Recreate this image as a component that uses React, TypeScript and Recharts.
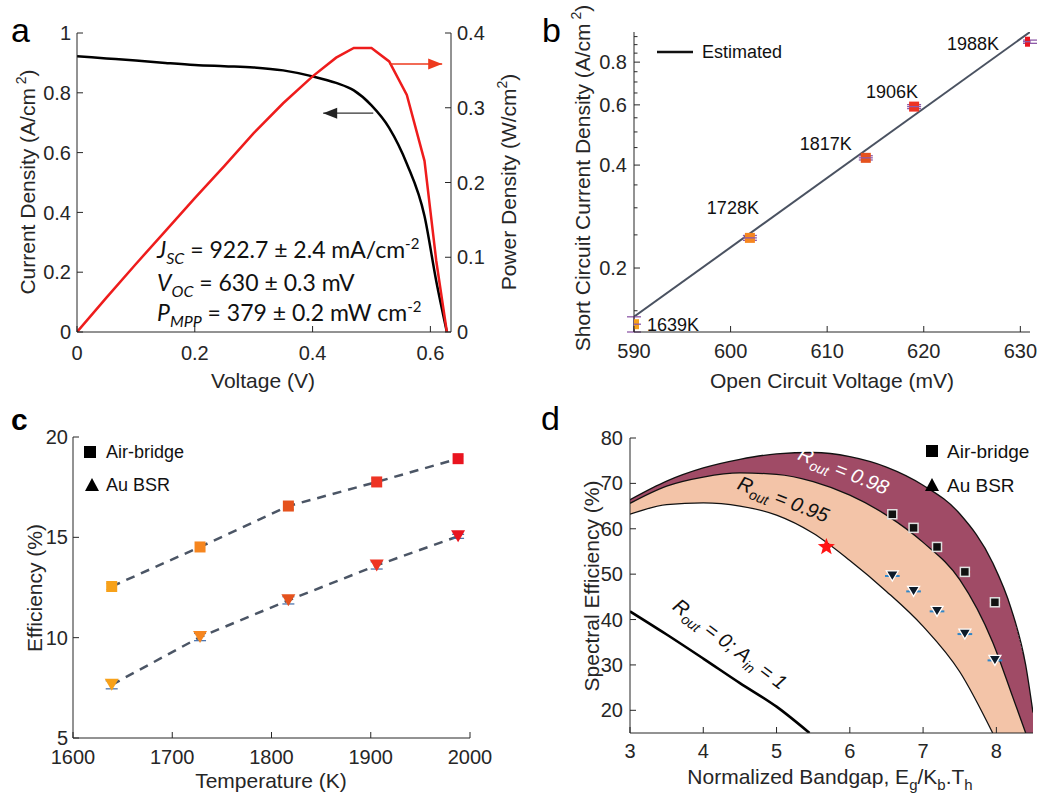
import React from "react";
import {
  ComposedChart,
  Line,
  Area,
  Scatter,
  XAxis,
  YAxis,
  ErrorBar,
  ReferenceDot,
  ReferenceLine,
} from "recharts";

const SANS = "'Liberation Sans', Arial, Helvetica, sans-serif";
const CALIBRI = "Lato, 'Open Sans', sans-serif";
const INK = "#262626";

// (a) J-V and P-V sweep
const voltage = [0, 0.05, 0.1, 0.15, 0.2, 0.25, 0.3, 0.35, 0.4, 0.44, 0.47, 0.5, 0.53, 0.56, 0.59, 0.61, 0.628];
const currentDensity = [0.922, 0.915, 0.908, 0.9, 0.893, 0.889, 0.885, 0.875, 0.855, 0.833, 0.808, 0.758, 0.683, 0.563, 0.388, 0.17, 0];
const powerDensity = [0, 0.046, 0.091, 0.135, 0.179, 0.222, 0.266, 0.306, 0.342, 0.367, 0.38, 0.38, 0.362, 0.317, 0.229, 0.095, 0];
const jArrowV = [0.503, 0.418]; // tail, head
const jArrowLevel = 0.732;
const pArrowV = [0.531, 0.62];
const pArrowLevel = 0.3585;

// (b) Jsc vs Voc
const tempLabels = ["1639K", "1728K", "1817K", "1906K", "1988K"];
const vocMv = [590, 602, 614, 619, 631];
const jscA = [0.137, 0.245, 0.42, 0.593, 0.918];
const jscErr = [0.007, 0.004, 0.006, 0.008, 0.01];
const estimatedVoc = [590, 631];
const estimatedJsc = [0.144, 0.98];
const jscMajor = [0.2, 0.4, 0.6, 0.8];
const jscMinor = [0.15, 0.25, 0.3, 0.35, 0.45, 0.5, 0.55, 0.65, 0.7, 0.75, 0.85, 0.9, 0.95];

// (c) efficiency vs temperature
const tempK = [1639, 1728, 1817, 1906, 1988];
const effAirBridge = [12.55, 14.52, 16.56, 17.76, 18.92];
const effAuBsr = [7.65, 10.03, 11.86, 13.6, 15.05];
const errAirBridge = [0.15, 0.18, 0.18, 0.18, 0.12];
const errAuBsr = [0.2, 0.18, 0.18, 0.18, 0.1];

// (d) spectral efficiency vs normalized bandgap
const bandgap = [3, 3.5, 4, 4.5, 5, 5.5, 6, 6.5, 7, 7.5, 7.95, 8.2, 8.4, 8.5];
const specR098 = [66.4, 70.5, 73.4, 75.3, 76.5, 76.8, 75.9, 73.6, 69.6, 63.3, 52.5, 42.5, 30, 19.5];
const specR095 = [65.6, 69.4, 71.4, 72.3, 72.0, 70.4, 67.4, 63.0, 57.0, 48.8, 35.0, 24.0, 15];
const specR095Low = [63.2, 65.3, 65.7, 65.0, 63.0, 59.0, 53.0, 46.2, 38.5, 28.5, 15];
const r0Gap = [3, 3.5, 4, 4.5, 5, 5.45];
const r0Spec = [41.8, 36.7, 31.4, 26.0, 20.8, 15];
const gapMeasured = [6.58, 6.87, 7.19, 7.57, 7.98];
const specAirBridge = [63.2, 60.2, 56.0, 50.5, 43.8];
const specAuBsr = [49.6, 46.2, 41.8, 36.8, 31.0];
const starGap = [5.68];
const starSpec = [56];
const D_FLOOR = 15;

const TEMP_COLORS = ["#f7a11a", "#f6861f", "#e5521d", "#ee3424", "#e9141f"];

type Side = "bottom" | "top" | "left" | "right";

function inwardTick(side: Side, margin: number, opts: { labels?: boolean; majors?: number[] } = {}) {
  const { labels = true, majors } = opts;
  return (props: any) => {
    const { x, y, payload } = props;
    const v = Number(payload.value);
    const major = !majors || majors.some((m) => Math.abs(m - v) < 1e-9);
    const len = major ? 6 : 3.5;
    let x1 = x, y1 = y, x2 = x, y2 = y;
    let anchor: any = "middle";
    let dy = "0.355em";
    if (side === "bottom") {
      y1 = y - margin;
      y2 = y1 - len;
      dy = "0.8em";
    } else if (side === "top") {
      y1 = y + margin;
      y2 = y1 + len;
    } else if (side === "left") {
      x1 = x + margin;
      x2 = x1 + len;
      anchor = "end";
    } else {
      x1 = x - margin;
      x2 = x1 - len;
      anchor = "start";
    }
    return (
      <g>
        <line x1={x1} y1={y1} x2={x2} y2={y2} stroke={INK} strokeWidth={1} />
        {labels && major && (
          <text x={x} y={y} dy={dy} textAnchor={anchor} fontFamily={SANS} fontSize={20} fill={INK}>
            {String(v)}
          </text>
        )}
      </g>
    );
  };
}

const axisLine = { stroke: INK, strokeWidth: 1 };

const square = (size: number, edge?: string) => (p: any) => (
  <rect
    x={p.cx - size / 2}
    y={p.cy - size / 2}
    width={size}
    height={size}
    fill={p.payload.color ?? "#000"}
    stroke={edge ?? "none"}
    strokeWidth={edge ? 1.5 : 0}
  />
);

const downTriangle = (w: number, h: number, edge?: string) => (p: any) => (
  <polygon
    points={`${p.cx - w / 2},${p.cy - h / 2} ${p.cx + w / 2},${p.cy - h / 2} ${p.cx},${p.cy + h / 2}`}
    fill={p.payload.color ?? "#000"}
    stroke={edge ?? "none"}
    strokeWidth={edge ? 1.3 : 0}
  />
);

const starShape = (p: any) => {
  const pts: string[] = [];
  for (let k = 0; k < 10; k++) {
    const r = k % 2 === 0 ? 9 : 3.8;
    const a = -Math.PI / 2 + (k * Math.PI) / 5;
    pts.push(`${p.cx + r * Math.cos(a)},${p.cy + r * Math.sin(a)}`);
  }
  return <polygon points={pts.join(" ")} fill="#ff1414" />;
};

const arrowHead = (dir: "left" | "right", color: string) => (p: any) => {
  const s = dir === "left" ? 1 : -1;
  return (
    <polygon
      points={`${p.cx},${p.cy} ${p.cx + s * 14},${p.cy - 5.5} ${p.cx + s * 14},${p.cy + 5.5}`}
      fill={color}
    />
  );
};

// (b) point labels offsets (text centre relative to marker)
const labelDx = [39, -17, -40, -22, -57];
const labelDy = [0, -30, -14, -15, 2];

const labelledSquare = (p: any) => {
  const i = p.payload.i;
  return (
    <g>
      <rect x={p.cx - 5} y={p.cy - 5} width={10} height={10} fill={p.payload.color} />
      <line x1={p.cx - 7} x2={p.cx + 7} y1={p.cy} y2={p.cy} stroke="#8e5aa8" strokeWidth={1.3} />
      <text
        x={p.cx + labelDx[i]}
        y={p.cy + labelDy[i]}
        dy="0.355em"
        textAnchor="middle"
        fontFamily={SANS}
        fontSize={18}
        fill="#111"
      >
        {p.payload.label}
      </text>
    </g>
  );
};

const rotatedLabel = (angle: number, color: string, parts: [string, string][]) => (p: any) => (
  <text
    transform={`translate(${p.cx},${p.cy}) rotate(${angle})`}
    textAnchor="middle"
    dy="0.35em"
    fontFamily={SANS}
    fontStyle="italic"
    fontSize={20}
    fill={color}
  >
    {parts.map(([t, kind], k) =>
      kind === "sub" ? (
        <tspan key={k} fontSize={14} dy={5}>
          {t}
        </tspan>
      ) : (
        <tspan key={k} dy={k > 0 && parts[k - 1][1] === "sub" ? -5 : 0}>
          {t}
        </tspan>
      ),
    )}
  </text>
);

function PanelA() {
  const data = voltage.map((v, i) => ({ x: v, j: currentDensity[i], p: powerDensity[i] }));
  return (
    <ComposedChart width={520} height={400} data={data} margin={{ top: 33, right: 19, bottom: 18, left: 17 }}>
      <XAxis xAxisId="b" dataKey="x" type="number" domain={[0, 0.635]} ticks={[0, 0.2, 0.4, 0.6]} allowDataOverflow
        height={50} tickSize={0} tickMargin={12} interval={0} tick={inwardTick("bottom", 12)} axisLine={axisLine} />
      <XAxis xAxisId="t" orientation="top" dataKey="x" type="number" domain={[0, 0.635]} ticks={[0.2, 0.4, 0.6]}
        allowDataOverflow height={0} tickSize={0} tickMargin={0} interval={0}
        tick={inwardTick("top", 0, { labels: false })} axisLine={axisLine} />
      <YAxis yAxisId="j" type="number" domain={[0, 1]} ticks={[0, 0.2, 0.4, 0.6, 0.8, 1]} allowDataOverflow width={60}
        tickSize={0} tickMargin={6} interval={0} tick={inwardTick("left", 6)} axisLine={axisLine} />
      <YAxis yAxisId="p" orientation="right" type="number" domain={[0, 0.4]} ticks={[0, 0.1, 0.2, 0.3, 0.4]}
        allowDataOverflow width={50} tickSize={0} tickMargin={6} interval={0} tick={inwardTick("right", 6)}
        axisLine={axisLine} />
      <Line xAxisId="b" yAxisId="j" dataKey="j" type="monotone" stroke="#000" strokeWidth={2.5} dot={false}
        isAnimationActive={false} />
      <Line xAxisId="b" yAxisId="p" dataKey="p" type="linear" stroke="#ee1c1c" strokeWidth={2.5} dot={false}
        isAnimationActive={false} />
      <ReferenceLine xAxisId="b" yAxisId="j" stroke="#333" strokeWidth={1.3}
        segment={[{ x: jArrowV[0], y: jArrowLevel }, { x: jArrowV[1], y: jArrowLevel }]} />
      <ReferenceDot xAxisId="b" yAxisId="j" x={jArrowV[1]} y={jArrowLevel} shape={arrowHead("left", "#222")} />
      <ReferenceLine xAxisId="b" yAxisId="p" stroke="#ee3a1e" strokeWidth={1.3}
        segment={[{ x: pArrowV[0], y: pArrowLevel }, { x: pArrowV[1], y: pArrowLevel }]} />
      <ReferenceDot xAxisId="b" yAxisId="p" x={pArrowV[1]} y={pArrowLevel} shape={arrowHead("right", "#ee3a1e")} />
    </ComposedChart>
  );
}

function PanelB() {
  const pts = vocMv.map((v, i) => ({ x: v, y: jscA[i], err: jscErr[i], color: TEMP_COLORS[i], label: tempLabels[i], i }));
  const est = estimatedVoc.map((v, i) => ({ x: v, y: estimatedJsc[i] }));
  const yTicks = [...jscMajor, ...jscMinor].sort((a, b) => a - b);
  return (
    <ComposedChart width={519} height={400} margin={{ top: 32, right: 9, bottom: 18, left: 54 }}>
      <XAxis xAxisId="b" dataKey="x" type="number" domain={[590, 631]} ticks={[590, 600, 610, 620, 630]}
        allowDataOverflow height={50} tickSize={0} tickMargin={10} interval={0} tick={inwardTick("bottom", 10)}
        axisLine={axisLine} />
      <XAxis xAxisId="t" orientation="top" dataKey="x" type="number" domain={[590, 631]} ticks={[600, 610, 620, 630]}
        allowDataOverflow height={0} tickSize={0} tickMargin={0} interval={0}
        tick={inwardTick("top", 0, { labels: false })} axisLine={axisLine} />
      <YAxis yAxisId="l" type="number" scale="log" domain={[0.13, 0.98]} ticks={yTicks} allowDataOverflow width={60}
        tickSize={0} tickMargin={7} interval={0} tick={inwardTick("left", 7, { majors: jscMajor })}
        axisLine={axisLine} />
      <YAxis yAxisId="r" orientation="right" type="number" scale="log" domain={[0.13, 0.98]} ticks={yTicks}
        allowDataOverflow width={0} tickSize={0} tickMargin={0} interval={0}
        tick={inwardTick("right", 0, { labels: false, majors: jscMajor })} axisLine={axisLine} />
      <Line data={est} xAxisId="b" yAxisId="l" dataKey="y" type="linear" stroke="#4a5261" strokeWidth={2}
        dot={false} isAnimationActive={false} />
      <Scatter data={pts} xAxisId="b" yAxisId="l" dataKey="y" shape={labelledSquare} isAnimationActive={false}>
        <ErrorBar dataKey="err" direction="y" width={7} stroke="#8e5aa8" strokeWidth={1.3} />
      </Scatter>
    </ComposedChart>
  );
}

function PanelC() {
  const data = tempK.map((t, i) => ({ x: t, ab: effAirBridge[i], au: effAuBsr[i] }));
  const ab = tempK.map((t, i) => ({ x: t, y: effAirBridge[i], err: errAirBridge[i], color: TEMP_COLORS[i] }));
  const au = tempK.map((t, i) => ({ x: t, y: effAuBsr[i], err: errAuBsr[i], color: TEMP_COLORS[i] }));
  return (
    <ComposedChart width={520} height={401} data={data} margin={{ top: 37, right: 50, bottom: 13, left: 23 }}>
      <XAxis xAxisId="b" dataKey="x" type="number" domain={[1600, 2000]} ticks={[1600, 1700, 1800, 1900, 2000]}
        allowDataOverflow height={50} tickSize={0} tickMargin={10} interval={0} tick={inwardTick("bottom", 10)}
        axisLine={axisLine} />
      <XAxis xAxisId="t" orientation="top" dataKey="x" type="number" domain={[1600, 2000]} ticks={[1700, 1800, 1900]}
        allowDataOverflow height={0} tickSize={0} tickMargin={0} interval={0}
        tick={inwardTick("top", 0, { labels: false })} axisLine={axisLine} />
      <YAxis yAxisId="l" type="number" domain={[5, 20]} ticks={[5, 10, 15, 20]} allowDataOverflow width={50}
        tickSize={0} tickMargin={5} interval={0} tick={inwardTick("left", 5)} axisLine={axisLine} />
      <YAxis yAxisId="r" orientation="right" type="number" domain={[5, 20]} ticks={[10, 15]} allowDataOverflow
        width={0} tickSize={0} tickMargin={0} interval={0} tick={inwardTick("right", 0, { labels: false })}
        axisLine={axisLine} />
      <Line xAxisId="b" yAxisId="l" dataKey="ab" type="linear" stroke="#4b5565" strokeWidth={2.5}
        strokeDasharray="9 7" dot={false} isAnimationActive={false} />
      <Line xAxisId="b" yAxisId="l" dataKey="au" type="linear" stroke="#4b5565" strokeWidth={2.5}
        strokeDasharray="9 7" dot={false} isAnimationActive={false} />
      <Scatter data={ab} xAxisId="b" yAxisId="l" dataKey="y" shape={square(11)} isAnimationActive={false}>
        <ErrorBar dataKey="err" direction="y" width={5} stroke="#7a2a12" strokeWidth={1.2} />
      </Scatter>
      <Scatter data={au} xAxisId="b" yAxisId="l" dataKey="y" shape={downTriangle(14, 12)} isAnimationActive={false}>
        <ErrorBar dataKey="err" direction="y" width={6} stroke="#3f6aa6" strokeWidth={1.2} />
      </Scatter>
    </ComposedChart>
  );
}

function PanelD() {
  const lastLow = specR095Low.length - 1;
  const lastMid = specR095.length - 1;
  const data = bandgap.map((g, i) => {
    const top = specR098[i];
    const mid = i <= lastMid ? specR095[i] : undefined;
    const low = i <= lastLow ? specR095Low[i] : undefined;
    return {
      x: g,
      top,
      mid,
      low,
      darkMain: i <= lastMid ? [mid, top] : undefined,
      darkTail: i >= lastMid ? [D_FLOOR, top] : undefined,
      lightMain: i <= lastLow ? [low, mid] : undefined,
      lightTail: i >= lastLow && i <= lastMid ? [D_FLOOR, mid] : undefined,
    };
  });
  const r0 = r0Gap.map((g, i) => ({ x: g, y: r0Spec[i] }));
  const ab = gapMeasured.map((g, i) => ({ x: g, y: specAirBridge[i], err: 0.075, color: "#111" }));
  const au = gapMeasured.map((g, i) => ({ x: g, y: specAuBsr[i], err: 0.1, color: "#0d1b2a" }));
  const star = starGap.map((g, i) => ({ x: g, y: starSpec[i] }));
  const DARK = "#a04b66";
  const LIGHT = "#f3c4a8";
  const band = (key: string, fill: string) => (
    <Area xAxisId="b" yAxisId="l" dataKey={key} type="monotone" stroke="none" fill={fill} fillOpacity={1}
      shapeRendering="crispEdges" isAnimationActive={false} />
  );
  return (
    <ComposedChart width={519} height={401} data={data} margin={{ top: 38, right: 6, bottom: 18, left: 60 }}>
      <XAxis xAxisId="b" dataKey="x" type="number" domain={[3, 8.5]} ticks={[3, 4, 5, 6, 7, 8]} allowDataOverflow
        height={50} tickSize={0} tickMargin={9} interval={0} tick={inwardTick("bottom", 9)} axisLine={axisLine} />
      <XAxis xAxisId="t" orientation="top" dataKey="x" type="number" domain={[3, 8.5]} ticks={[4, 5, 6, 7, 8]}
        allowDataOverflow height={0} tickSize={0} tickMargin={0} interval={0}
        tick={inwardTick("top", 0, { labels: false })} axisLine={axisLine} />
      <YAxis yAxisId="l" type="number" domain={[15, 80]} ticks={[20, 30, 40, 50, 60, 70, 80]} allowDataOverflow
        width={50} tickSize={0} tickMargin={7} interval={0} tick={inwardTick("left", 7)} axisLine={axisLine} />
      <YAxis yAxisId="r" orientation="right" type="number" domain={[15, 80]} ticks={[20, 30, 40, 50, 60, 70]}
        allowDataOverflow width={0} tickSize={0} tickMargin={0} interval={0}
        tick={inwardTick("right", 0, { labels: false })} axisLine={axisLine} />
      {band("darkMain", DARK)}
      {band("darkTail", DARK)}
      {band("lightMain", LIGHT)}
      {band("lightTail", LIGHT)}
      <Line xAxisId="b" yAxisId="l" dataKey="top" type="monotone" stroke="#111" strokeWidth={1.3} dot={false}
        isAnimationActive={false} />
      <Line xAxisId="b" yAxisId="l" dataKey="mid" type="monotone" stroke="#111" strokeWidth={1.3} dot={false}
        isAnimationActive={false} />
      <Line xAxisId="b" yAxisId="l" dataKey="low" type="monotone" stroke="#111" strokeWidth={1.3} dot={false}
        isAnimationActive={false} />
      <Line data={r0} xAxisId="b" yAxisId="l" dataKey="y" type="monotone" stroke="#000" strokeWidth={2.6}
        dot={false} isAnimationActive={false} />
      <Scatter data={ab} xAxisId="b" yAxisId="l" dataKey="y" shape={square(9, "#e0e0e0")} isAnimationActive={false}>
        <ErrorBar dataKey="err" direction="x" width={0} stroke="#c0282d" strokeWidth={1.3} />
      </Scatter>
      <Scatter data={au} xAxisId="b" yAxisId="l" dataKey="y" shape={downTriangle(12, 10, "#ffffff")}
        isAnimationActive={false}>
        <ErrorBar dataKey="err" direction="x" width={0} stroke="#2f86c8" strokeWidth={2} />
      </Scatter>
      <Scatter data={star} xAxisId="b" yAxisId="l" dataKey="y" shape={starShape} isAnimationActive={false} />
      <ReferenceDot xAxisId="b" yAxisId="l" x={5.88} y={71.4}
        shape={rotatedLabel(22, "#ffffff", [["R", "n"], ["out", "sub"], [" = 0.98", "n"]])} />
      <ReferenceDot xAxisId="b" yAxisId="l" x={5.06} y={65.1}
        shape={rotatedLabel(21, "#111", [["R", "n"], ["out", "sub"], [" = 0.95", "n"]])} />
      <ReferenceDot xAxisId="b" yAxisId="l" x={4.31} y={33.4}
        shape={rotatedLabel(37, "#111", [["R", "n"], ["out", "sub"], [" = 0; A", "n"], ["in", "sub"], [" = 1", "n"]])} />
    </ComposedChart>
  );
}

const title = { fontFamily: SANS, fontSize: 21, fill: INK, textAnchor: "middle" as const };

function Overlay() {
  return (
    <svg width={1039} height={801} style={{ position: "absolute", left: 0, top: 0, pointerEvents: "none" }}>
      <g fontFamily={SANS} fill="#000">
        <text x={11} y={42} fontSize={34}>a</text>
        <text x={542} y={42} fontSize={34}>b</text>
        <text x={11} y={430} fontSize={30} fontWeight="bold">c</text>
        <text x={541} y={430} fontSize={34}>d</text>
      </g>

      {/* axis titles */}
      <text transform="translate(28,182) rotate(-90)" dy="0.35em" {...title}>
        Current Density (A/cm<tspan fontSize={14} dy={-9}> 2</tspan><tspan dy={9}>)</tspan>
      </text>
      <text transform="translate(509,182) rotate(-90)" dy="0.35em" {...title}>
        Power Density (W/cm<tspan fontSize={14} dy={-9}>2</tspan><tspan dy={9}>)</tspan>
      </text>
      <text x={263} y={388} {...title}>Voltage (V)</text>
      <text transform="translate(583,178) rotate(-90)" dy="0.35em" {...title}>
        Short Circuit Current Density (A/cm<tspan fontSize={14} dy={-9}> 2</tspan><tspan dy={9}>)</tspan>
      </text>
      <text x={832} y={388} {...title}>Open Circuit Voltage (mV)</text>
      <text transform="translate(35,588) rotate(-90)" dy="0.35em" {...title}>Efficiency (%)</text>
      <text x={271} y={788} {...title}>Temperature (K)</text>
      <text transform="translate(592,586) rotate(-90)" dy="0.35em" {...title}>Spectral Efficiency (%)</text>
      <text x={830} y={784} {...title}>
        Normalized Bandgap, E<tspan fontSize={15} dy={6}>g</tspan><tspan dy={-6}>/K</tspan>
        <tspan fontSize={15} dy={6}>b</tspan><tspan dy={-6}>.T</tspan><tspan fontSize={15} dy={6}>h</tspan>
      </text>

      {/* (a) annotation */}
      <g fontFamily={CALIBRI} fontSize={23} fill="#111">
        <text x={157} y={258}>
          <tspan fontStyle="italic">J</tspan><tspan fontSize={16} dy={6} fontStyle="italic">SC</tspan>
          <tspan dy={-6}> = 922.7 ± 2.4 mA/cm</tspan><tspan fontSize={15} dy={-9}>-2</tspan>
        </text>
        <text x={157} y={291}>
          <tspan fontStyle="italic">V</tspan><tspan fontSize={16} dy={6} fontStyle="italic">OC</tspan>
          <tspan dy={-6}> = 630 ± 0.3 mV</tspan>
        </text>
        <text x={157} y={321}>
          <tspan fontStyle="italic">P</tspan><tspan fontSize={16} dy={6} fontStyle="italic">MPP</tspan>
          <tspan dy={-6}> = 379 ± 0.2 mW cm</tspan><tspan fontSize={15} dy={-9}>-2</tspan>
        </text>
      </g>

      {/* (b) legend */}
      <line x1={657} x2={693} y1={52} y2={52} stroke="#111" strokeWidth={2.5} />
      <text x={702} y={52} dy="0.35em" fontFamily={SANS} fontSize={18} fill="#111">Estimated</text>

      {/* (c) legend */}
      <rect x={84} y={446} width={12} height={12} fill="#000" />
      <text x={106} y={452} dy="0.35em" fontFamily={SANS} fontSize={18} fill="#111">Air-bridge</text>
      <polygon points="85,491 99,491 92,478" fill="#000" />
      <text x={106} y={485} dy="0.35em" fontFamily={SANS} fontSize={18} fill="#111">Au BSR</text>

      {/* (d) legend */}
      <rect x={926} y={445} width={12} height={12} fill="#000" />
      <text x={947} y={451} dy="0.35em" fontFamily={SANS} fontSize={19} fill="#111">Air-bridge</text>
      <polygon points="925,491 939,491 932,478" fill="#000" />
      <text x={947} y={485} dy="0.35em" fontFamily={SANS} fontSize={19} fill="#111">Au BSR</text>
    </svg>
  );
}

export default function App() {
  return (
    <div style={{ position: "absolute", left: 0, top: 0, width: 1039, height: 801, background: "#fff" }}>
      <div style={{ position: "absolute", left: 0, top: 0 }}>
        <PanelA />
      </div>
      <div style={{ position: "absolute", left: 520, top: 0 }}>
        <PanelB />
      </div>
      <div style={{ position: "absolute", left: 0, top: 400 }}>
        <PanelC />
      </div>
      <div style={{ position: "absolute", left: 520, top: 400 }}>
        <PanelD />
      </div>
      <Overlay />
    </div>
  );
}
